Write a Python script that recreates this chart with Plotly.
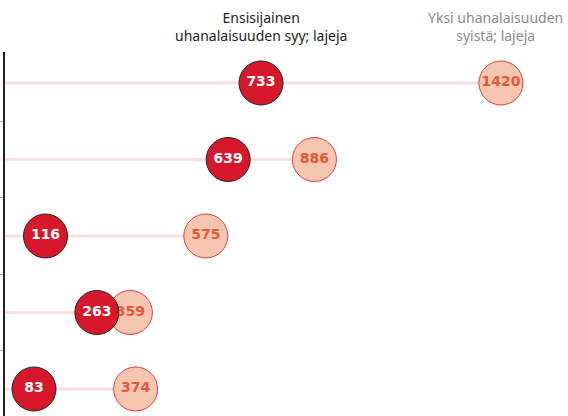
import plotly.graph_objects as go

rows = [0, 1, 2, 3, 4]
primary = [733, 639, 116, 263, 83]
one_of = [1420, 886, 575, 359, 374]
label_primary = "Ensisijainen<br>uhanalaisuuden syy; lajeja"
label_one = "Yksi uhanalaisuuden<br>syistä; lajeja"

DARK = "#d7182a"
LIGHT = "#f6c6b0"
LIGHT_LINE = "#e33b3b"
LIGHT_TEXT = "#e2583a"
TRACK = "#f9dfe2"

fig = go.Figure()

# track lines from 0 to max value
lx, ly = [], []
for r, a, b in zip(rows, primary, one_of):
    lx += [0, max(a, b), None]
    ly += [r, r, None]
fig.add_trace(go.Scatter(x=lx, y=ly, mode="lines", line=dict(color=TRACK, width=3),
                         hoverinfo="skip", showlegend=False))

fig.add_trace(go.Scatter(
    x=one_of, y=rows, mode="markers+text", text=[str(v) for v in one_of],
    textposition="middle center",
    marker=dict(size=44, color=LIGHT, line=dict(color=LIGHT_LINE, width=1)),
    textfont=dict(family="DejaVu Sans", size=14, color=LIGHT_TEXT, weight="bold"),
    showlegend=False, cliponaxis=False))

fig.add_trace(go.Scatter(
    x=primary, y=rows, mode="markers+text", text=[str(v) for v in primary],
    textposition="middle center",
    marker=dict(size=44, color=DARK, line=dict(color="#222222", width=1)),
    textfont=dict(family="DejaVu Sans", size=14, color="white", weight="bold"),
    showlegend=False, cliponaxis=False))

# header pointer triangles
fig.add_trace(go.Scatter(
    x=[primary[0], one_of[0]], y=[-0.43, -0.43], mode="markers",
    marker=dict(symbol="triangle-down", size=8, color=[DARK, "#f08a6a"]),
    showlegend=False, cliponaxis=False, hoverinfo="skip"))

fig.add_annotation(x=primary[0], xref="x", y=1.013, yref="paper", yanchor="bottom",
                   text=label_primary, showarrow=False,
                   font=dict(family="Noto Sans", size=14, color="#222222"))
fig.add_annotation(x=one_of[0], xref="x", xshift=-5, y=1.013, yref="paper", yanchor="bottom",
                   text=label_one, showarrow=False,
                   font=dict(family="Noto Sans", size=14, color="#8a8a8a"))

fig.update_layout(
    width=568, height=416,
    margin=dict(l=5, r=0, t=52, b=0, autoexpand=False),
    paper_bgcolor="white", plot_bgcolor="white",
    xaxis=dict(range=[0, 1612], visible=False, fixedrange=True, automargin=False),
    yaxis=dict(range=[4.353, -0.405], showgrid=False, zeroline=False, automargin=False,
               showline=True, linecolor="#222222", linewidth=1.5,
               tickvals=[0.5, 1.5, 2.5, 3.5], ticktext=["", "", "", ""],
               ticks="outside", ticklen=6, tickcolor="#aaaaaa", tickwidth=1),
)

fig.write_html("out.html", config={"displayModeBar": False},
               post_script="document.body.style.margin='0';document.body.style.overflow='hidden';")
